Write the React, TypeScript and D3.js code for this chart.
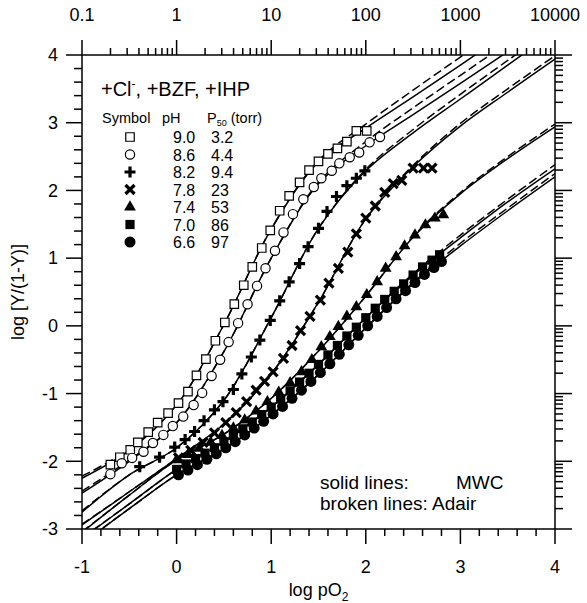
import React from "react";
import * as d3 from "d3";

// curve knots (log pO2) and model curves
const knotX = [-1, -0.5, 0, 0.5, 1, 1.5, 2, 2.5, 3, 3.5, 4];

const mwcCurves = [
  [-2.25, -1.84, -1.17, 0.02, 1.43, 2.42, 2.92, 3.38, 3.85, 4.33, 4.8],
  [-2.47, -2.0, -1.43, -0.38, 1.0, 2.1, 2.66, 3.12, 3.58, 4.05, 4.52],
  [-2.75, -2.2, -1.8, -1.1, 0.12, 1.44, 2.29, 2.85, 3.35, 3.85, 4.35],
  [-2.94, -2.45, -1.96, -1.45, -0.71, 0.35, 1.58, 2.35, 2.95, 3.45, 3.94],
  [-3.05, -2.5, -1.98, -1.6, -1.07, -0.37, 0.44, 1.31, 1.95, 2.47, 2.94],
  [-3.14, -2.63, -2.12, -1.71, -1.2, -0.57, 0.12, 0.75, 1.3, 1.83, 2.32],
  [-3.22, -2.7, -2.2, -1.82, -1.32, -0.72, -0.03, 0.62, 1.18, 1.7, 2.2]
];

const adairCurves = [
  [-2.22, -1.82, -1.17, 0.02, 1.43, 2.44, 2.98, 3.48, 3.97, 4.45, 4.9],
  [-2.44, -1.98, -1.43, -0.38, 1.0, 2.12, 2.72, 3.22, 3.7, 4.18, 4.65],
  [-2.73, -2.2, -1.8, -1.1, 0.12, 1.44, 2.31, 2.9, 3.42, 3.92, 4.42],
  [-2.93, -2.45, -1.96, -1.45, -0.71, 0.35, 1.58, 2.37, 2.99, 3.5, 3.99],
  [-3.04, -2.5, -1.98, -1.6, -1.07, -0.37, 0.44, 1.32, 1.97, 2.5, 2.98],
  [-3.13, -2.63, -2.12, -1.71, -1.2, -0.57, 0.12, 0.77, 1.34, 1.87, 2.38],
  [-3.21, -2.7, -2.2, -1.82, -1.32, -0.72, -0.03, 0.64, 1.22, 1.74, 2.25]
];

// measured points [log pO2, log Y/(1-Y)]
const ph90 = [
  [-0.7, -2.05], [-0.6, -1.94], [-0.49, -1.83], [-0.41, -1.72], [-0.3, -1.57], [-0.2, -1.43],
  [-0.09, -1.29], [0.02, -1.14], [0.12, -0.97], [0.21, -0.73], [0.31, -0.49], [0.41, -0.22],
  [0.51, 0.05], [0.61, 0.32], [0.71, 0.6], [0.8, 0.87], [0.9, 1.15], [0.99, 1.41], [1.09, 1.7],
  [1.19, 1.92], [1.3, 2.12], [1.4, 2.3], [1.5, 2.43], [1.6, 2.54], [1.7, 2.62], [1.8, 2.72],
  [1.9, 2.88], [2.01, 2.88]
];
const ph86 = [
  [-0.7, -2.19], [-0.58, -2.03], [-0.47, -1.95], [-0.35, -1.86], [-0.25, -1.73], [-0.14, -1.61],
  [-0.04, -1.48], [0.07, -1.34], [0.18, -1.17], [0.27, -0.99], [0.37, -0.74], [0.46, -0.5],
  [0.55, -0.24], [0.65, 0.04], [0.75, 0.32], [0.85, 0.59], [0.94, 0.85], [1.04, 1.11],
  [1.13, 1.38], [1.23, 1.65], [1.34, 1.87], [1.45, 2.05], [1.53, 2.18], [1.64, 2.29],
  [1.72, 2.4], [1.83, 2.49], [1.93, 2.56], [2.04, 2.71], [2.15, 2.79]
];
const ph82 = [
  [-0.39, -2.08], [-0.18, -1.94], [-0.02, -1.79], [0.09, -1.68], [0.19, -1.56], [0.29, -1.4],
  [0.4, -1.24], [0.49, -1.12], [0.6, -0.94], [0.69, -0.71], [0.79, -0.46], [0.88, -0.21],
  [0.99, 0.08], [1.09, 0.37], [1.19, 0.65], [1.3, 0.92], [1.39, 1.17], [1.5, 1.44],
  [1.59, 1.69], [1.69, 1.91], [1.8, 2.07], [1.9, 2.18], [1.99, 2.29]
];
const ph78 = [
  [0.02, -1.95], [0.15, -1.84], [0.28, -1.72], [0.4, -1.58], [0.52, -1.43], [0.63, -1.28],
  [0.74, -1.12], [0.84, -0.95], [0.93, -0.82], [1.02, -0.68], [1.13, -0.48], [1.22, -0.29],
  [1.31, -0.07], [1.41, 0.14], [1.52, 0.38], [1.61, 0.63], [1.71, 0.85], [1.81, 1.09],
  [1.9, 1.36], [2.0, 1.59], [2.1, 1.77], [2.2, 1.97], [2.29, 2.1], [2.38, 2.15],
  [2.5, 2.33], [2.61, 2.33], [2.7, 2.33]
];
const ph74 = [
  [0.0, -1.98], [0.12, -1.9], [0.24, -1.81], [0.36, -1.72], [0.48, -1.62], [0.6, -1.51],
  [0.72, -1.39], [0.84, -1.26], [0.96, -1.12], [1.08, -0.98], [1.2, -0.84], [1.32, -0.68],
  [1.43, -0.5], [1.53, -0.31], [1.62, -0.16], [1.71, -0.01], [1.8, 0.14], [1.9, 0.28],
  [2.01, 0.46], [2.12, 0.65], [2.21, 0.85], [2.32, 1.02], [2.41, 1.18], [2.52, 1.34],
  [2.63, 1.49], [2.73, 1.59], [2.82, 1.64]
];
const ph70 = [
  [0.0, -2.12], [0.1, -2.04], [0.2, -1.96], [0.3, -1.88], [0.4, -1.8], [0.5, -1.71],
  [0.6, -1.62], [0.7, -1.52], [0.8, -1.42], [0.9, -1.31], [1.0, -1.2], [1.1, -1.08],
  [1.2, -0.96], [1.3, -0.83], [1.4, -0.7], [1.5, -0.57], [1.6, -0.43], [1.7, -0.29],
  [1.8, -0.15], [1.9, -0.02], [2.0, 0.12], [2.1, 0.26], [2.2, 0.39], [2.3, 0.51],
  [2.4, 0.62], [2.5, 0.75], [2.6, 0.87], [2.7, 0.97], [2.78, 1.05]
];
const ph66 = [
  [0.02, -2.2], [0.12, -2.13], [0.22, -2.05], [0.32, -1.97], [0.42, -1.89], [0.52, -1.8],
  [0.62, -1.71], [0.72, -1.61], [0.82, -1.51], [0.92, -1.41], [1.02, -1.3], [1.12, -1.19],
  [1.22, -1.07], [1.32, -0.95], [1.42, -0.82], [1.52, -0.69], [1.62, -0.56], [1.72, -0.42],
  [1.82, -0.28], [1.92, -0.14], [2.02, 0.0], [2.12, 0.14], [2.22, 0.27], [2.32, 0.4],
  [2.42, 0.52], [2.52, 0.64], [2.62, 0.76], [2.72, 0.86], [2.8, 0.95]
];

const seriesPoints = [ph90, ph86, ph82, ph78, ph74, ph70, ph66];
const symbolKinds = ["openSquare", "openCircle", "plus", "cross", "triangle", "square", "circle"];
const phLabels = ["9.0", "8.6", "8.2", "7.8", "7.4", "7.0", "6.6"];
const p50Labels = ["3.2", "4.4", "9.4", "23", "53", "86", "97"];
const topTickLabels = ["0.1", "1", "10", "100", "1000", "10000"];

const font = "'Liberation Sans', Arial, sans-serif";

function Marker({ kind, x, y }) {
  const t = `translate(${x},${y})`;
  switch (kind) {
    case "openSquare":
      return <path transform={t} d={d3.symbol(d3.symbolSquare, 72)()} fill="white" stroke="black" strokeWidth={1.2} />;
    case "openCircle":
      return <path transform={t} d={d3.symbol(d3.symbolCircle, 68)()} fill="white" stroke="black" strokeWidth={1.2} />;
    case "plus":
      return <path transform={t} d="M-5.5,0H5.5M0,-5.5V5.5" stroke="black" strokeWidth={3.2} />;
    case "cross":
      return <path transform={t} d="M-4.5,-4.5L4.5,4.5M-4.5,4.5L4.5,-4.5" stroke="black" strokeWidth={3.2} />;
    case "triangle":
      return <path transform={t} d={d3.symbol(d3.symbolTriangle, 60)()} fill="black" />;
    case "square":
      return <path transform={t} d={d3.symbol(d3.symbolSquare, 85)()} fill="black" />;
    default:
      return <path transform={t} d={d3.symbol(d3.symbolCircle, 95)()} fill="black" />;
  }
}

export default function App() {
  const width = 587,
    height = 603;
  const left = 82,
    right = 555,
    top = 55,
    bottom = 529;

  const x = d3.scaleLinear().domain([-1, 4]).range([left, right]);
  const y = d3.scaleLinear().domain([-3, 4]).range([bottom, top]);
  const xTop = d3.scaleLog().domain([0.1, 10000]).range([left, right]);
  const yRight = d3.scaleLog().domain([0.001, 10000]).range([bottom, top]);

  const line = d3
    .line<number>()
    .x((d, i) => x(knotX[i]))
    .y(d => y(d))
    .curve(d3.curveCatmullRom.alpha(0.5));

  const isPow10 = v => Math.abs(Math.log10(v) - Math.round(Math.log10(v))) < 1e-6;

  const legendRowY = i => 137 + i * 17.5;

  return (
    <svg
      width={width}
      height={height}
      style={{ position: "absolute", left: 0, top: 0, background: "white" }}
      fontFamily={font}
    >
      <defs>
        <clipPath id="plotClip">
          <rect x={left} y={top} width={right - left} height={bottom - top} />
        </clipPath>
      </defs>

      {/* curves */}
      <g clipPath="url(#plotClip)" fill="none" stroke="black">
        {adairCurves.map((c, i) => (
          <path key={"a" + i} d={line(c)} strokeWidth={1.5} strokeDasharray="9,4" />
        ))}
        {mwcCurves.map((c, i) => (
          <path key={"m" + i} d={line(c)} strokeWidth={1.5} />
        ))}
      </g>

      {/* data points */}
      <g>
        {seriesPoints.map((pts, si) =>
          pts.map((p, j) => <Marker key={si + "-" + j} kind={symbolKinds[si]} x={x(p[0])} y={y(p[1])} />)
        )}
      </g>

      {/* frame */}
      <g stroke="black" strokeWidth={1.5} fill="none">
        <line x1={left} x2={right} y1={bottom} y2={bottom} />
        <line x1={left} x2={right} y1={top} y2={top} />
        <line x1={left} x2={left} y1={top} y2={bottom} />
        <line x1={right} x2={right} y1={top} y2={bottom} />
      </g>

      {/* bottom axis */}
      <g stroke="black" strokeWidth={1.5}>
        {x.ticks(25).map((t, i) => {
          const major = Math.abs(t - Math.round(t)) < 1e-6;
          return <line key={i} x1={x(t)} x2={x(t)} y1={bottom} y2={bottom + (major ? 15 : 7)} />;
        })}
      </g>
      <g fontSize={18} textAnchor="middle">
        {x.ticks(5).map(t => (
          <text key={t} x={x(t)} y={573}>
            {t < 0 ? "-" + Math.abs(t) : t}
          </text>
        ))}
      </g>
      <text x={(left + right) / 2} y={596} fontSize={18} textAnchor="middle">
        log pO
        <tspan fontSize={12} dy={5}>
          2
        </tspan>
      </text>

      {/* left axis */}
      <g stroke="black" strokeWidth={1.5}>
        {y.ticks(35).map((t, i) => {
          const major = Math.abs(t - Math.round(t)) < 1e-6;
          return <line key={i} x1={left} x2={left - (major ? 16 : 8)} y1={y(t)} y2={y(t)} />;
        })}
      </g>
      <g fontSize={18} textAnchor="end">
        {y.ticks(7).map(t => (
          <text key={t} x={58} y={y(t)} dy="0.35em">
            {t < 0 ? "-" + Math.abs(t) : t}
          </text>
        ))}
      </g>
      <text transform={`translate(24,${(top + bottom) / 2}) rotate(-90)`} fontSize={18} textAnchor="middle">
        log [Y/(1-Y)]
      </text>

      {/* top axis (pO2, torr) */}
      <g stroke="black" strokeWidth={1.5}>
        {xTop.ticks().map((t, i) => {
          const major = isPow10(t);
          return <line key={i} x1={xTop(t)} x2={xTop(t)} y1={top} y2={top - (major ? 15 : 7)} />;
        })}
      </g>
      <g fontSize={18} textAnchor="middle">
        {xTop.ticks().filter(isPow10).map((t, i) => (
          <text key={i} x={xTop(t)} y={21}>
            {topTickLabels[i]}
          </text>
        ))}
      </g>

      {/* right axis (Y/(1-Y)) */}
      <g stroke="black" strokeWidth={1.5}>
        {yRight.ticks().map((t, i) => {
          const major = isPow10(t);
          return <line key={i} x1={right} x2={right + (major ? 17 : 8)} y1={yRight(t)} y2={yRight(t)} />;
        })}
      </g>

      {/* legend */}
      <text x={101} y={96} fontSize={20}>
        +Cl
        <tspan fontSize={12} dy={-8}>
          -
        </tspan>
        <tspan dy={8}>, +BZF, +IHP</tspan>
      </text>
      <g fontSize={14.5}>
        <text x={102} y={123}>
          Symbol
        </text>
        <text x={162} y={123}>
          pH
        </text>
        <text x={207} y={123}>
          P
          <tspan fontSize={9} dy={3}>
            50
          </tspan>
          <tspan dy={-3}> (torr)</tspan>
        </text>
      </g>
      {symbolKinds.map((k, i) => (
        <g key={k}>
          <Marker kind={k} x={130} y={legendRowY(i)} />
          <text x={173} y={legendRowY(i) + 6} fontSize={16}>
            {phLabels[i]}
          </text>
          <text x={211} y={legendRowY(i) + 6} fontSize={16}>
            {p50Labels[i]}
          </text>
        </g>
      ))}

      {/* line key */}
      <g fontSize={19}>
        <text x={320} y={489}>
          solid lines:
        </text>
        <text x={456} y={489}>
          MWC
        </text>
        <text x={320} y={510}>
          broken lines: Adair
        </text>
      </g>
    </svg>
  );
}
